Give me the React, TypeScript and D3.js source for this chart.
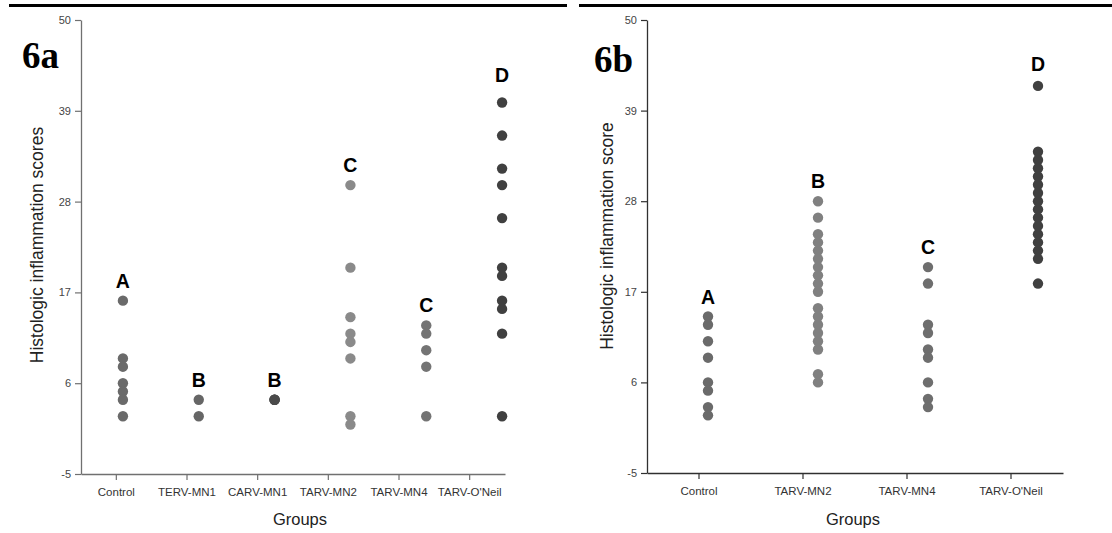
import React, { useEffect, useRef } from "react";
import * as d3 from "d3";

// ---------- data ----------
const yTicks = [-5, 6, 17, 28, 39, 50];

const groupsA = ["Control", "TERV-MN1", "CARV-MN1", "TARV-MN2", "TARV-MN4", "TARV-O'Neil"];
const controlA = [16, 9, 8, 6, 5, 4, 2];
const tervMn1A = [4, 2];
const carvMn1A = [4, 4, 4];
const tarvMn2A = [30, 20, 14, 12, 11, 9, 2, 1];
const tarvMn4A = [13, 12, 10, 8, 2];
const tarvONeilA = [40, 36, 32, 30, 26, 20, 19, 16, 15, 12, 2];
const lettersA = ["A", "B", "B", "C", "C", "D"];

const groupsB = ["Control", "TARV-MN2", "TARV-MN4", "TARV-O'Neil"];
const controlB = [14, 13, 11, 9, 6, 5, 3, 2];
const tarvMn2B = [28, 26, 24, 23, 22, 21, 20, 19, 18, 17, 15, 14, 13, 12, 11, 10, 7, 6];
const tarvMn4B = [20, 18, 13, 12, 10, 9, 6, 4, 3];
const tarvONeilB = [42, 34, 33, 32, 31, 30, 29, 28, 27, 26, 25, 24, 23, 22, 21, 18];
const lettersB = ["A", "B", "C", "D"];

// ---------- styling / layout ----------
const colorsA = ["#6a6a6a", "#666666", "#4a4a4a", "#8a8a8a", "#747474", "#404040"];
const colorsB = ["#6a6a6a", "#808080", "#6e6e6e", "#404040"];

interface PanelCfg {
  tag: string;
  groups: string[];
  values: number[][];
  letters: string[];
  colors: string[];
  axisX: number;
  axisEnd: number;
  dotStart: number;
  dotEnd: number;
  yTop: number;
  yBottom: number;
  axisColor: string;
  yTitle: string;
  yTitleX: number;
  yTitleY: number;
  tagX: number;
  tagY: number;
  groupsX: number;
  letterExtra: number[];
  lineX1: number;
  lineX2: number;
}

const panels: PanelCfg[] = [
  {
    tag: "6a",
    groups: groupsA,
    values: [controlA, tervMn1A, carvMn1A, tarvMn2A, tarvMn4A, tarvONeilA],
    letters: lettersA,
    colors: colorsA,
    axisX: 81,
    axisEnd: 505,
    dotStart: 85,
    dotEnd: 540,
    yTop: 20,
    yBottom: 474,
    axisColor: "#707070",
    yTitle: "Histologic inflammation scores",
    yTitleX: 37,
    yTitleY: 245,
    tagX: 22,
    tagY: 68,
    groupsX: 300,
    letterExtra: [0, 0, 0, 0, 0, 8],
    lineX1: 9,
    lineX2: 567,
  },
  {
    tag: "6b",
    groups: groupsB,
    values: [controlB, tarvMn2B, tarvMn4B, tarvONeilB],
    letters: lettersB,
    colors: colorsB,
    axisX: 647,
    axisEnd: 1063,
    dotStart: 653,
    dotEnd: 1093,
    yTop: 20,
    yBottom: 473,
    axisColor: "#303030",
    yTitle: "Histologic inflammation score",
    yTitleX: 607,
    yTitleY: 236,
    tagX: 594,
    tagY: 72,
    groupsX: 853,
    letterExtra: [0, 0, 0, 2],
    lineX1: 579,
    lineX2: 1112,
  },
];

const FONT = "Arial, 'Liberation Sans', Helvetica, sans-serif";

export default function App() {
  const ref = useRef<SVGSVGElement | null>(null);

  useEffect(() => {
    const svg = d3.select(ref.current);
    svg.selectAll("*").remove();
    svg.append("rect").attr("width", 1112).attr("height", 533).attr("fill", "#ffffff");

    panels.forEach((p) => {
      const g = svg.append("g");
      // top rule
      g.append("line")
        .attr("x1", p.lineX1)
        .attr("x2", p.lineX2)
        .attr("y1", 5.5)
        .attr("y2", 5.5)
        .attr("stroke", "#000")
        .attr("stroke-width", 3);

      const y = d3.scaleLinear().domain([-5, 50]).range([p.yBottom, p.yTop]);
      const xAxisScale = d3.scaleBand<string>().domain(p.groups).range([p.axisX, p.axisEnd]);
      const xDot = d3.scaleBand<string>().domain(p.groups).range([p.dotStart, p.dotEnd]);

      // y axis
      const yAxisG = g
        .append("g")
        .attr("transform", `translate(${p.axisX},0)`)
        .call(
          d3
            .axisLeft(y)
            .tickValues(yTicks)
            .tickFormat((d) => String(d))
            .tickSize(6)
            .tickSizeOuter(0)
            .tickPadding(4)
        );
      yAxisG.select(".domain").attr("stroke", p.axisColor).attr("stroke-width", 1.3);
      yAxisG.selectAll(".tick line").attr("stroke", p.axisColor).attr("stroke-width", 1.2);
      yAxisG
        .selectAll(".tick text")
        .attr("font-family", FONT)
        .attr("font-size", 11)
        .attr("fill", "#444");

      // x axis
      const xAxisG = g
        .append("g")
        .attr("transform", `translate(0,${p.yBottom})`)
        .call(d3.axisBottom(xAxisScale).tickSize(6).tickSizeOuter(0).tickPadding(8));
      xAxisG.select(".domain").attr("stroke", p.axisColor).attr("stroke-width", 1.3);
      xAxisG.selectAll(".tick line").attr("stroke", p.axisColor).attr("stroke-width", 1.2);
      xAxisG
        .selectAll(".tick text")
        .attr("font-family", FONT)
        .attr("font-size", 11.5)
        .attr("fill", "#333");

      // axis titles
      g.append("text")
        .attr("x", p.groupsX)
        .attr("y", 525)
        .attr("text-anchor", "middle")
        .attr("font-family", FONT)
        .attr("font-size", 16.5)
        .attr("fill", "#222")
        .text("Groups");

      g.append("text")
        .attr("transform", `translate(${p.yTitleX},${p.yTitleY}) rotate(-90)`)
        .attr("text-anchor", "middle")
        .attr("dominant-baseline", "central")
        .attr("font-family", FONT)
        .attr("font-size", 17.5)
        .attr("fill", "#222")
        .text(p.yTitle);

      // panel tag
      g.append("text")
        .attr("x", p.tagX)
        .attr("y", p.tagY)
        .attr("font-family", "'Liberation Serif', 'Times New Roman', serif")
        .attr("font-weight", "bold")
        .attr("font-size", 37)
        .attr("fill", "#000")
        .text(p.tag);

      // dots
      p.groups.forEach((grp, i) => {
        const cx = (xDot(grp) as number) + xDot.bandwidth() / 2;
        const vals = p.values[i];
        g.append("g")
          .selectAll("circle")
          .data(vals)
          .join("circle")
          .attr("cx", cx)
          .attr("cy", (d) => y(d))
          .attr("r", 5.2)
          .attr("fill", p.colors[i]);

        const top = d3.max(vals) as number;
        g.append("text")
          .attr("x", cx)
          .attr("y", y(top) - 20 - p.letterExtra[i])
          .attr("text-anchor", "middle")
          .attr("dominant-baseline", "central")
          .attr("font-family", FONT)
          .attr("font-weight", "bold")
          .attr("font-size", 19.5)
          .attr("fill", "#000")
          .text(p.letters[i]);
      });
    });
  }, []);

  return (
    <svg
      ref={ref}
      width={1112}
      height={533}
      style={{ position: "absolute", left: 0, top: 0, display: "block" }}
    />
  );
}
